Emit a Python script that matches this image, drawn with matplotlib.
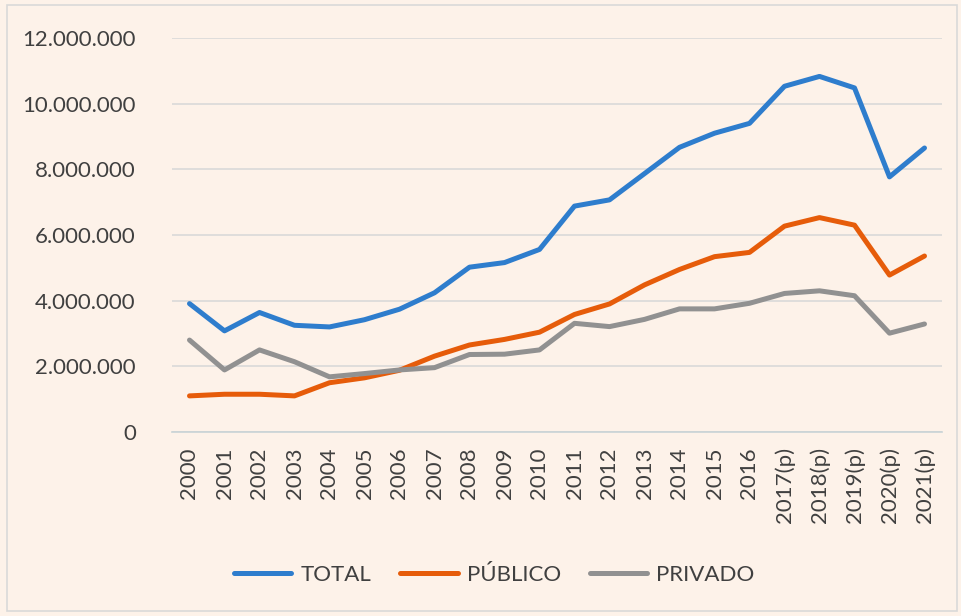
import matplotlib
matplotlib.use("Agg")
import matplotlib.pyplot as plt
from matplotlib.ticker import FuncFormatter
from matplotlib.patches import Rectangle

# datos
years = ["2000", "2001", "2002", "2003", "2004", "2005", "2006", "2007",
         "2008", "2009", "2010", "2011", "2012", "2013", "2014", "2015",
         "2016", "2017(p)", "2018(p)", "2019(p)", "2020(p)", "2021(p)"]
total = [3.91, 3.08, 3.64, 3.25, 3.20, 3.42, 3.74, 4.24, 5.02, 5.16, 5.56,
         6.88, 7.07, 7.87, 8.67, 9.10, 9.40, 10.53, 10.83, 10.48, 7.77, 8.65]
publico = [1.10, 1.15, 1.15, 1.10, 1.50, 1.65, 1.88, 2.31, 2.65, 2.82, 3.04,
           3.58, 3.90, 4.48, 4.95, 5.34, 5.47, 6.27, 6.53, 6.30, 4.78, 5.36]
privado = [2.80, 1.89, 2.50, 2.14, 1.68, 1.78, 1.89, 1.96, 2.36, 2.37, 2.50,
           3.31, 3.21, 3.43, 3.75, 3.75, 3.92, 4.22, 4.30, 4.15, 3.01, 3.29]
series = [("TOTAL", total, "#2E7DCD"),
          ("PÚBLICO", publico, "#E65C0A"),
          ("PRIVADO", privado, "#919191")]
yticks = [0, 2, 4, 6, 8, 10, 12]

BG = "#FDF2E9"
TXT = "#404040"
plt.rcParams["font.family"] = ["Lato", "DejaVu Sans"]

fig = plt.figure(figsize=(9.61, 6.16), dpi=100, facecolor=BG)
W, H = 961.0, 616.0
ax = fig.add_axes([172 / W, 1 - 432 / H, (942 - 172) / W, (432 - 38) / H])
ax.set_facecolor(BG)

# marco exterior
fig.patches.append(Rectangle((7 / W, 5 / H), (957 - 7) / W, (611 - 5) / H,
                             transform=fig.transFigure, fill=False,
                             edgecolor="#D9D9D9", lw=1.2))

x = list(range(len(years)))
for name, vals, col in series:
    ax.plot(x, [v * 1e6 for v in vals], color=col, lw=3.6, label=name,
            solid_capstyle="round", solid_joinstyle="round")

ax.set_xlim(-0.5, len(years) - 0.5)
ax.set_ylim(0, 12e6)
ax.set_yticks([t * 1e6 for t in yticks])
ax.yaxis.set_major_formatter(FuncFormatter(lambda v, p: f"{int(v):,}".replace(",", ".")))
ax.set_xticks(x)
ax.set_xticklabels(years, rotation=90, va="top", ha="center")
ax.grid(axis="y", color="#D9D9D9", lw=1.2)
ax.set_axisbelow(True)
for s in ["top", "right", "left"]:
    ax.spines[s].set_visible(False)
ax.spines["bottom"].set_color("#C9D3D6")
ax.spines["bottom"].set_linewidth(1.2)
ax.tick_params(axis="both", length=0, colors=TXT, labelsize=16)
ax.tick_params(axis="y", pad=26)
ax.tick_params(axis="x", pad=11)

fig.legend(loc="center", bbox_to_anchor=(494 / W, 1 - 575 / H), ncol=3,
           frameon=False, fontsize=16, handlelength=2.6, columnspacing=1.3,
           handletextpad=0.4, labelcolor=TXT)

fig.savefig("out.png", dpi=100, facecolor=BG)
